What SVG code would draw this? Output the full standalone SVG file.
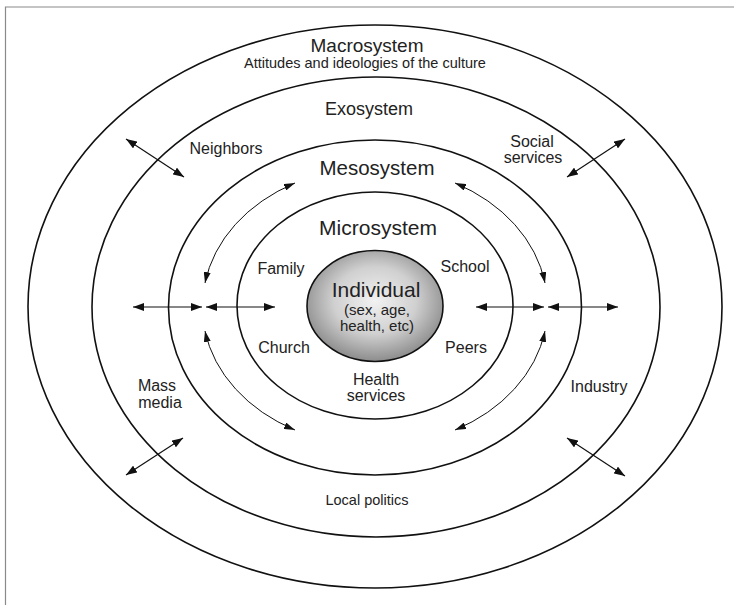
<svg xmlns="http://www.w3.org/2000/svg" width="734" height="605" viewBox="0 0 734 605">
<defs>
<style>
.ring{fill:none;stroke:#111;stroke-width:1.6}
.t{font-family:"Liberation Sans",Arial,sans-serif;fill:#222;text-anchor:middle}
.lbl{font-size:16px}
.con{fill:none;stroke:#111;stroke-width:1.2;marker-start:url(#ah);marker-end:url(#ah)}
.cur{fill:none;stroke:#111;stroke-width:1;marker-start:url(#ahs);marker-end:url(#ahs)}
</style>
<marker id="ah" viewBox="0 0 11 8" refX="11" refY="4" markerWidth="11" markerHeight="8" markerUnits="userSpaceOnUse" orient="auto-start-reverse"><path d="M0,0 L11,4 L0,8 z" fill="#111"/></marker>
<marker id="ahs" viewBox="0 0 11 7" refX="11" refY="3.5" markerWidth="11" markerHeight="7" markerUnits="userSpaceOnUse" orient="auto-start-reverse"><path d="M0,0 L11,3.5 L0,7 z" fill="#111"/></marker>
<radialGradient id="ind" cx="50%" cy="45%" r="55%"><stop offset="0" stop-color="#f2f2f2"/><stop offset="0.55" stop-color="#d0d0d0"/><stop offset="1" stop-color="#8c8c8c"/></radialGradient>
</defs>
<rect width="734" height="605" fill="#fff"/>
<path d="M5.5,605 V7 H734" fill="none" stroke="#8a8a8a" stroke-width="1.2"/>
<g id="macrosystem">
<ellipse class="ring" cx="375" cy="306.5" rx="347" ry="281.5"/>
<text class="t" x="367" y="52" font-size="19">Macrosystem</text>
<text class="t" x="365" y="68" font-size="14.5">Attitudes and ideologies of the culture</text>
</g>
<g id="exosystem">
<ellipse class="ring" cx="376" cy="307" rx="284" ry="230"/>
<text class="t" x="369" y="115" font-size="18">Exosystem</text>
<text class="t lbl" x="226" y="154">Neighbors</text>
<text class="t lbl" x="532" y="147">Social</text>
<text class="t lbl" x="533" y="163">services</text>
<text class="t lbl" x="157" y="391">Mass</text>
<text class="t lbl" x="160" y="408">media</text>
<text class="t lbl" x="599" y="392">Industry</text>
<text class="t" x="367" y="505" font-size="14.5">Local politics</text>
</g>
<g id="mesosystem">
<ellipse class="ring" cx="375" cy="307.5" rx="206.5" ry="167.5"/>
<text class="t" x="377" y="175" font-size="20.5">Mesosystem</text>
</g>
<g id="microsystem">
<ellipse class="ring" cx="375" cy="305.5" rx="138" ry="113.5"/>
<text class="t" x="378" y="235" font-size="21">Microsystem</text>
<text class="t lbl" x="281" y="274">Family</text>
<text class="t lbl" x="465" y="272">School</text>
<text class="t lbl" x="284" y="353">Church</text>
<text class="t lbl" x="466" y="353">Peers</text>
<text class="t lbl" x="376" y="385">Health</text>
<text class="t lbl" x="376" y="401">services</text>
</g>
<g id="individual">
<ellipse cx="375" cy="306" rx="68" ry="55.5" fill="url(#ind)" stroke="#111" stroke-width="1.6"/>
<text class="t" x="376" y="297" font-size="21">Individual</text>
<text class="t" x="377" y="315" font-size="15">(sex, age,</text>
<text class="t" x="377" y="331" font-size="15">health, etc)</text>
</g>
<g id="connectors">
<line class="con" x1="133" y1="307" x2="202" y2="307"/>
<line class="con" x1="206" y1="307" x2="275" y2="307"/>
<line class="con" x1="476" y1="307" x2="544" y2="307"/>
<line class="con" x1="548" y1="307" x2="618" y2="307"/>
<line class="con" x1="126" y1="139" x2="184" y2="177"/>
<line class="con" x1="567" y1="177" x2="625" y2="139"/>
<line class="con" x1="126" y1="475" x2="183" y2="438"/>
<line class="con" x1="567" y1="438" x2="625" y2="476"/>
<path class="cur" d="M205,283 A172,138 0 0 1 295,183"/>
<path class="cur" d="M455,183 A172,138 0 0 1 545,283"/>
<path class="cur" d="M545,331 A172,138 0 0 1 455,430"/>
<path class="cur" d="M295,430 A172,138 0 0 1 205,331"/>
</g>
</svg>
